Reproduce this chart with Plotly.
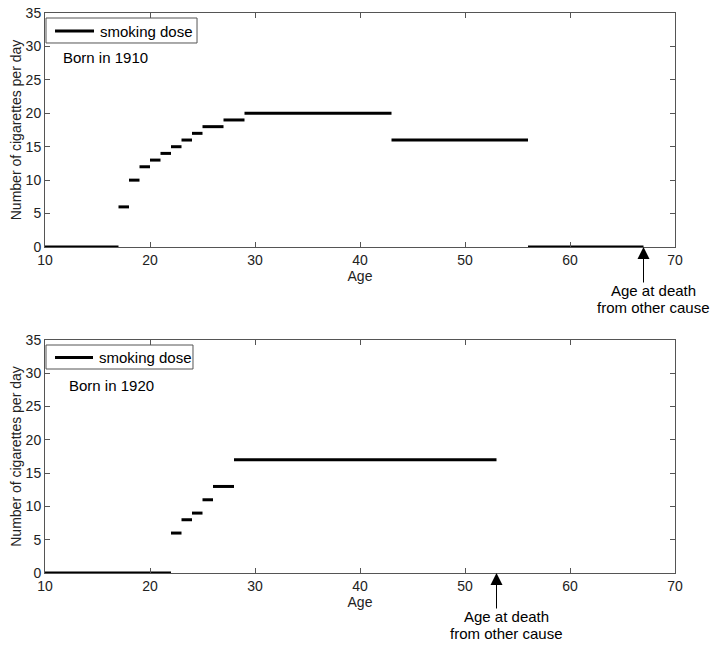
import plotly.graph_objects as go

# ---- data ----
# Born in 1910
starts_1910 = [10, 17, 18, 19, 20, 21, 22, 23, 24, 25, 27, 29, 43, 56]
ends_1910   = [17, 18, 19, 20, 21, 22, 23, 24, 25, 27, 29, 43, 56, 67]
dose_1910   = [0, 6, 10, 12, 13, 14, 15, 16, 17, 18, 19, 20, 16, 0]
# Born in 1920
starts_1920 = [10, 22, 23, 24, 25, 26, 28]
ends_1920   = [22, 23, 24, 25, 26, 28, 53]
dose_1920   = [0, 6, 8, 9, 11, 13, 17]
death_ages = [67, 53]
cohort_labels = ["Born in 1910", "Born in 1920"]
legend_label = "smoking dose"
death_text = ["Age at death", "from other cause"]
x_ticks = [10, 20, 30, 40, 50, 60, 70]
y_ticks = [0, 5, 10, 15, 20, 25, 30, 35]

FONT = "Liberation Sans, Arial, sans-serif"

def seg_xy(starts, ends, vals):
    xs, ys = [], []
    for s, e, v in zip(starts, ends, vals):
        xs += [s, e, None]
        ys += [v, v, None]
    return xs, ys

fig = go.Figure()
x1, y1 = seg_xy(starts_1910, ends_1910, dose_1910)
x2, y2 = seg_xy(starts_1920, ends_1920, dose_1920)
fig.add_trace(go.Scatter(x=x1, y=y1, mode="lines", name=legend_label,
                         line=dict(color="black", width=3), xaxis="x", yaxis="y",
                         showlegend=False))
fig.add_trace(go.Scatter(x=x2, y=y2, mode="lines", name=legend_label,
                         line=dict(color="black", width=3), xaxis="x2", yaxis="y2",
                         showlegend=False))

axis_common = dict(showline=True, linecolor="#555", linewidth=1, mirror="ticks",
                   ticks="inside", ticklen=5, tickcolor="#555", showgrid=False,
                   zeroline=False, automargin=False,
                   tickfont=dict(size=14, color="#222", family=FONT))

xa = dict(axis_common, range=[10, 70], tickvals=x_ticks,
          title=dict(text="Age", font=dict(size=14, color="#222", family=FONT), standoff=0))
ya = dict(axis_common, range=[0, 35], tickvals=y_ticks,
          title=dict(text="Number of cigarettes per day",
                     font=dict(size=14, color="#222", family=FONT), standoff=0))

top_dom = [326 / 560, 1.0]
bot_dom = [0.0, 233 / 560]

fig.update_layout(
    width=719, height=648,
    margin=dict(l=45, r=44, t=13, b=75, autoexpand=False),
    plot_bgcolor="white", paper_bgcolor="white",
    font=dict(family=FONT, color="black"),
    xaxis=dict(xa, domain=[0, 1], anchor="y"),
    yaxis=dict(ya, domain=top_dom, anchor="x"),
    xaxis2=dict(xa, domain=[0, 1], anchor="y2"),
    yaxis2=dict(ya, domain=bot_dom, anchor="x2"),
    showlegend=False,
)

anns = []
shapes = []
label_pos = [(11.5, 28.4), (12.1, 28.2)]
# legend boxes in axis-domain fractions: (x0, x1, y0, y1, line_x0, line_x1, line_y, text_x)
legend_geo = [(0.0016, 0.2413, 0.8718, 0.9786, 0.0159, 0.0778, 0.923, 0.0841),
              (0.0016, 0.2349, 0.8755, 0.9785, 0.0159, 0.0762, 0.925, 0.0825)]
for i, (ax_x, ax_y) in enumerate([("x", "y"), ("x2", "y2")]):
    g = legend_geo[i]
    shapes.append(dict(type="rect", xref=f"{ax_x} domain", yref=f"{ax_y} domain",
                       x0=g[0], x1=g[1], y0=g[2], y1=g[3],
                       line=dict(color="#555", width=1), fillcolor="white", layer="above"))
    shapes.append(dict(type="line", xref=f"{ax_x} domain", yref=f"{ax_y} domain",
                       x0=g[4], x1=g[5], y0=g[6], y1=g[6],
                       line=dict(color="black", width=3), layer="above"))
    anns.append(dict(x=g[7], y=g[6], xref=f"{ax_x} domain", yref=f"{ax_y} domain",
                     text=legend_label, showarrow=False, xanchor="left", yanchor="middle",
                     font=dict(size=15, color="black", family=FONT)))
    anns.append(dict(x=label_pos[i][0], y=label_pos[i][1], xref=ax_x, yref=ax_y,
                     text=cohort_labels[i], showarrow=False, xanchor="left",
                     font=dict(size=15, color="black", family=FONT)))
    anns.append(dict(x=death_ages[i], y=0, xref=ax_x, yref=ax_y, text="",
                     showarrow=True, ax=0, ay=37, arrowhead=2, arrowsize=2.4,
                     arrowwidth=1, arrowcolor="black"))
    for j, line in enumerate(death_text):
        anns.append(dict(x=death_ages[i], y=0, xref=ax_x, yref=ax_y,
                         text=line, showarrow=False,
                         xanchor="center", yanchor="middle", xshift=10,
                         yshift=-43 - 17 * j,
                         font=dict(size=15, color="black", family=FONT)))
fig.update_layout(annotations=anns, shapes=shapes)

fig.write_html("out.html", post_script="document.body.style.margin='0';",
               config={"displayModeBar": False})
